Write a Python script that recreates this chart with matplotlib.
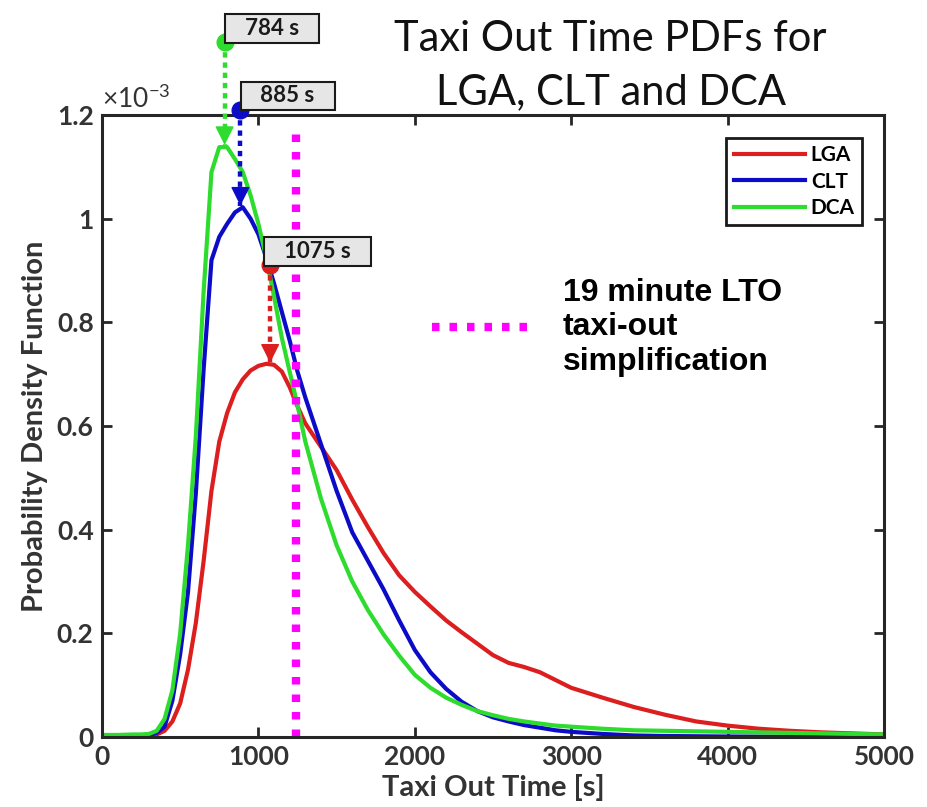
import matplotlib
matplotlib.use('Agg')
import matplotlib.pyplot as plt
from matplotlib.lines import Line2D
from matplotlib.ticker import FuncFormatter

plt.rcParams['font.family'] = ['Lato', 'DejaVu Sans']
plt.rcParams['mathtext.fontset'] = 'custom'
plt.rcParams['mathtext.rm'] = 'Lato'

# taxi out time grid [s]
taxi_time = [0, 100, 200, 250, 300, 350, 400, 450, 500, 550, 600, 650, 700, 750,
             800, 850, 900, 950, 1000, 1050, 1100, 1150, 1200, 1250, 1300, 1400,
             1500, 1600, 1700, 1800, 1900, 2000, 2100, 2200, 2300, 2400, 2500,
             2600, 2700, 2800, 2900, 3000, 3200, 3400, 3600, 3800, 4000, 4200,
             4400, 4600, 4800, 5000]

# pdf values, in units of 1e-3
pdf_lga = [0, 0, 0, 0.001, 0.002, 0.005, 0.012, 0.03, 0.065, 0.13, 0.22, 0.34,
           0.475, 0.57, 0.625, 0.665, 0.69, 0.707, 0.716, 0.72, 0.718, 0.705,
           0.675, 0.638, 0.605, 0.56, 0.515, 0.458, 0.405, 0.355, 0.312, 0.28,
           0.252, 0.225, 0.202, 0.18, 0.158, 0.143, 0.135, 0.125, 0.11, 0.095,
           0.076, 0.058, 0.043, 0.03, 0.022, 0.016, 0.012, 0.009, 0.007, 0.005]
pdf_clt = [0, 0, 0.001, 0.002, 0.004, 0.008, 0.02, 0.07, 0.16, 0.28, 0.47, 0.71,
           0.92, 0.965, 0.99, 1.012, 1.022, 1.0, 0.97, 0.925, 0.875, 0.82,
           0.765, 0.705, 0.655, 0.565, 0.475, 0.395, 0.34, 0.285, 0.225, 0.168,
           0.125, 0.093, 0.068, 0.05, 0.038, 0.03, 0.023, 0.018, 0.013, 0.01,
           0.006, 0.003, 0.002, 0.0015, 0.001, 0.0008, 0.0006, 0.0005, 0.0005, 0.0005]
pdf_dca = [0.004, 0.004, 0.005, 0.005, 0.006, 0.012, 0.035, 0.09, 0.2, 0.37, 0.58,
           0.86, 1.09, 1.138, 1.138, 1.115, 1.09, 1.045, 0.99, 0.925, 0.85, 0.77,
           0.705, 0.64, 0.57, 0.46, 0.37, 0.3, 0.245, 0.198, 0.157, 0.12, 0.095,
           0.076, 0.062, 0.05, 0.042, 0.035, 0.03, 0.026, 0.022, 0.02, 0.016,
           0.013, 0.012, 0.011, 0.01, 0.009, 0.008, 0.007, 0.006, 0.005]

airports = ['LGA', 'CLT', 'DCA']
colors = ['#dc1e1e', '#0c0cc8', '#2ddc2d']

# mode annotations (order: DCA, CLT, LGA)
mode_labels = ['784 s', '885 s', '1075 s']
mode_times = [784, 885, 1075]
mode_peaks = [1.142, 1.025, 0.722]
marker_heights = [1.34, 1.21, 0.91]
mode_colors = ['#2ddc2d', '#0c0cc8', '#dc1e1e']

lto_time = 1240
lto_top = 1.18

fig = plt.figure(figsize=(9.28, 8.07), dpi=100)
ax = fig.add_axes([0.1099, 0.0867, 0.8427, 0.7708])

for pdf, name, c in zip([pdf_lga, pdf_clt, pdf_dca], airports, colors):
    ax.plot(taxi_time, pdf, color=c, lw=3, label=name, solid_joinstyle='round')

ax.plot([lto_time, lto_time], [0, lto_top], color='#ff00ff', lw=6,
        linestyle=(0, (0.9, 1.2)), dash_capstyle='butt')

for lab, t, pk, h, c in zip(mode_labels, mode_times, mode_peaks, marker_heights, mode_colors):
    # dotted shaft, then a solid head ending on the peak
    ax.plot([t, t], [h, pk], color=c, lw=3.2, linestyle=(0, (1.2, 1.1)),
            dash_capstyle='butt', clip_on=False, zorder=4)
    ax.annotate('', xy=(t, pk), xytext=(0, 12), textcoords='offset points',
                arrowprops=dict(arrowstyle='-|>,head_length=0.7,head_width=0.35',
                                mutation_scale=17, color=c, lw=1, shrinkA=0, shrinkB=0),
                annotation_clip=False, zorder=4)
    ax.plot(t, h, 'o', color=c, markersize=12, clip_on=False, zorder=5)
    ax.annotate('   ' + lab + '   ', xy=(t, h), xytext=(34, 10), textcoords='offset points',
                ha='center', va='center', fontsize=16, fontweight='bold', color='#1a1a1a',
                bbox=dict(boxstyle='square,pad=0.17', fc='#e6e6e6', ec='#1a1a1a', lw=1.5),
                annotation_clip=False, zorder=6)

ax.set_xlim(0, 5000)
ax.set_ylim(0, 1.2)
ax.set_xticks([0, 1000, 2000, 3000, 4000, 5000])
ax.set_yticks([0, 0.2, 0.4, 0.6, 0.8, 1.0, 1.2])
ax.yaxis.set_major_formatter(FuncFormatter(lambda v, p: '%g' % v))

for sp in ax.spines.values():
    sp.set_linewidth(2.2)
    sp.set_color('#262626')
ax.tick_params(direction='in', length=7, width=2, top=True, right=True,
               labelsize=19, labelcolor='#333333', color='#262626', pad=6)
for t in ax.get_xticklabels() + ax.get_yticklabels():
    t.set_fontweight('bold')

ax.set_xlabel('Taxi Out Time [s]', fontsize=21, fontweight='bold', color='#333333', labelpad=3)
ax.set_ylabel('Probability Density Function', fontsize=21, fontweight='bold', color='#333333', labelpad=6)
ax.text(0.0, 1.004, r'$\times 10^{-3}$', transform=ax.transAxes, ha='left', va='bottom',
        fontsize=19, color='#333333')

leg = ax.legend(loc='upper right', bbox_to_anchor=(0.972, 0.963),
                prop={'weight': 'bold', 'size': 15}, handlelength=3.4, handletextpad=0.3,
                labelspacing=0.3, borderpad=0.35, borderaxespad=0, fancybox=False, framealpha=1,
                edgecolor='#1a1a1a')
leg.get_frame().set_linewidth(2)
ax.add_artist(leg)

lto_handle = Line2D([], [], color='#ff00ff', lw=6, linestyle=(0, (0.9, 1.2)), dash_capstyle='butt')
ax.legend([lto_handle], ['19 minute LTO\ntaxi-out\nsimplification'], loc='center left',
          bbox_to_anchor=(0.422, 0.659), frameon=False, borderpad=0, borderaxespad=0,
          handlelength=3.1, handletextpad=1.0,
          prop={'family': 'Liberation Sans', 'weight': 'bold', 'size': 23})

fig.text(0.658, 0.919, 'Taxi Out Time PDFs for\nLGA, CLT and DCA', ha='center', va='center',
         fontsize=30, linespacing=1.5, color='#111111')

fig.savefig('out.png', dpi=100)
